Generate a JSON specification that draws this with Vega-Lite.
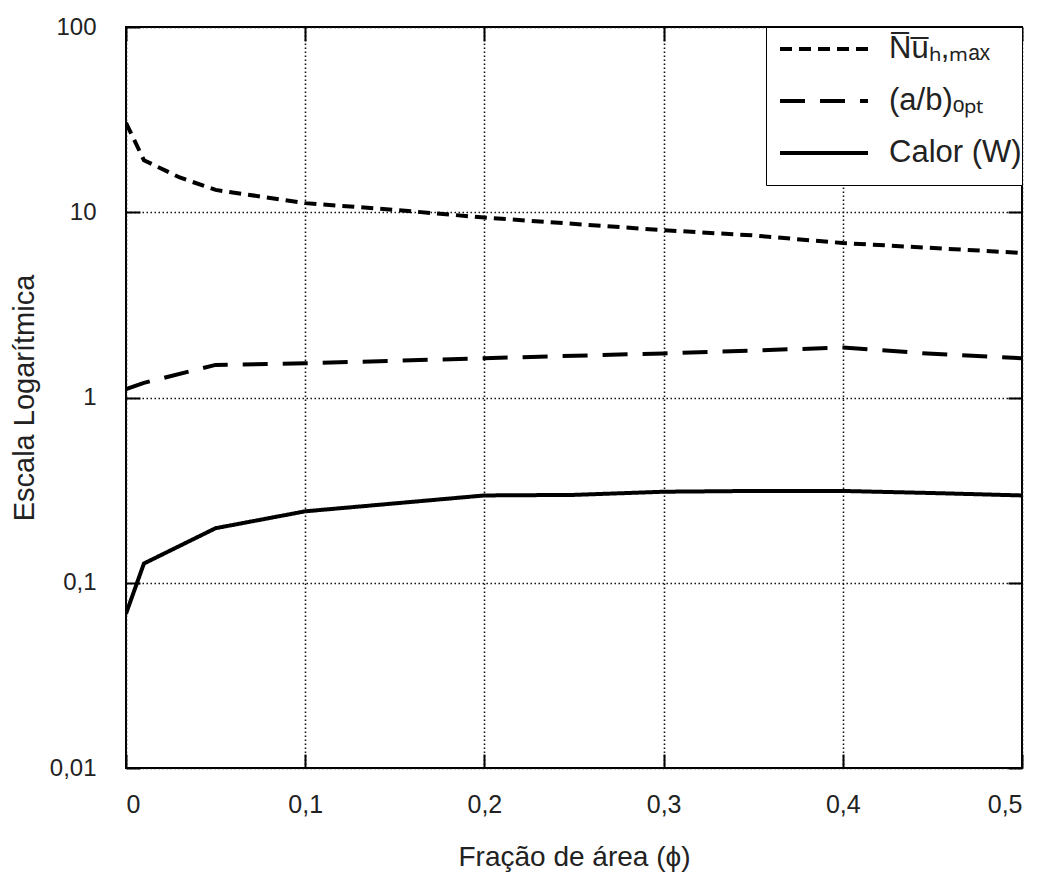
{
  "$schema": "https://vega.github.io/schema/vega-lite/v6.json",
  "width": 896,
  "height": 741,
  "autosize": {"type": "none"},
  "padding": {"left": 126, "top": 27, "right": 29, "bottom": 114},
  "background": "white",
  "config": {
    "view": {"stroke": "black", "strokeWidth": 2},
    "font": "Liberation Sans"
  },
  "data": {
    "values": [
      {"phi": 0, "v": 30.4, "s": "N̅u̅ₕ,ₘₐₓ"},
      {"phi": 0.01, "v": 19.1, "s": "N̅u̅ₕ,ₘₐₓ"},
      {"phi": 0.03, "v": 15.4, "s": "N̅u̅ₕ,ₘₐₓ"},
      {"phi": 0.05, "v": 13.2, "s": "N̅u̅ₕ,ₘₐₓ"},
      {"phi": 0.1, "v": 11.2, "s": "N̅u̅ₕ,ₘₐₓ"},
      {"phi": 0.15, "v": 10.3, "s": "N̅u̅ₕ,ₘₐₓ"},
      {"phi": 0.2, "v": 9.36, "s": "N̅u̅ₕ,ₘₐₓ"},
      {"phi": 0.3, "v": 8.0, "s": "N̅u̅ₕ,ₘₐₓ"},
      {"phi": 0.35, "v": 7.5, "s": "N̅u̅ₕ,ₘₐₓ"},
      {"phi": 0.4, "v": 6.82, "s": "N̅u̅ₕ,ₘₐₓ"},
      {"phi": 0.5, "v": 6.03, "s": "N̅u̅ₕ,ₘₐₓ"},
      {"phi": 0, "v": 1.11, "s": "(a/b)ₒₚₜ"},
      {"phi": 0.01, "v": 1.2, "s": "(a/b)ₒₚₜ"},
      {"phi": 0.05, "v": 1.5, "s": "(a/b)ₒₚₜ"},
      {"phi": 0.1, "v": 1.53, "s": "(a/b)ₒₚₜ"},
      {"phi": 0.2, "v": 1.63, "s": "(a/b)ₒₚₜ"},
      {"phi": 0.3, "v": 1.73, "s": "(a/b)ₒₚₜ"},
      {"phi": 0.4, "v": 1.86, "s": "(a/b)ₒₚₜ"},
      {"phi": 0.45, "v": 1.72, "s": "(a/b)ₒₚₜ"},
      {"phi": 0.5, "v": 1.63, "s": "(a/b)ₒₚₜ"},
      {"phi": 0, "v": 0.068, "s": "Calor (W)"},
      {"phi": 0.01, "v": 0.127, "s": "Calor (W)"},
      {"phi": 0.05, "v": 0.197, "s": "Calor (W)"},
      {"phi": 0.1, "v": 0.243, "s": "Calor (W)"},
      {"phi": 0.2, "v": 0.296, "s": "Calor (W)"},
      {"phi": 0.25, "v": 0.298, "s": "Calor (W)"},
      {"phi": 0.3, "v": 0.31, "s": "Calor (W)"},
      {"phi": 0.35, "v": 0.313, "s": "Calor (W)"},
      {"phi": 0.4, "v": 0.313, "s": "Calor (W)"},
      {"phi": 0.45, "v": 0.305, "s": "Calor (W)"},
      {"phi": 0.5, "v": 0.296, "s": "Calor (W)"}
    ]
  },
  "layer": [
    {
      "mark": {"type": "line", "color": "black", "strokeWidth": 4, "clip": true},
      "encoding": {
        "x": {
          "field": "phi", "type": "quantitative",
          "scale": {"domain": [0, 0.5], "nice": false, "zero": false},
          "axis": {
            "title": "Fração de área (ϕ)",
            "titleFontSize": 28, "titleFontWeight": "normal", "titleColor": "#222", "titlePadding": 26,
            "values": [0, 0.1, 0.2, 0.3, 0.4, 0.5],
            "labelExpr": "replace(format(datum.value, '.1~f'), '.', ',')",
            "labelFontSize": 25, "labelColor": "#222", "labelPadding": 38,
            "tickSize": -14, "tickColor": "black", "tickWidth": 2,
            "domain": false,
            "grid": true, "gridColor": "#111", "gridDash": [1.5, 2.5], "gridWidth": 1.6
          }
        },
        "y": {
          "field": "v", "type": "quantitative",
          "scale": {"type": "log", "domain": [0.01, 100], "nice": false},
          "axis": {
            "title": "Escala Logarítmica",
            "titleFontSize": 29, "titleFontWeight": "normal", "titleColor": "#222", "titlePadding": 10,
            "values": [0.01, 0.1, 1, 10, 100],
            "labelExpr": "replace(toString(datum.value), '.', ',')",
            "labelFontSize": 24, "labelColor": "#222", "labelPadding": 44,
            "tickSize": -14, "tickColor": "black", "tickWidth": 2,
            "domain": false,
            "grid": true, "gridColor": "#111", "gridDash": [1.5, 2.5], "gridWidth": 1.6
          }
        },
        "strokeDash": {
          "field": "s", "type": "nominal",
          "scale": {
            "domain": ["N̅u̅ₕ,ₘₐₓ", "(a/b)ₒₚₜ", "Calor (W)"],
            "range": [[12, 7], [25, 15], [1, 0]]
          },
          "legend": {
            "title": " ",
            "titleOrient": "bottom",
            "titleFontSize": 10,
            "titlePadding": 7,
            "orient": "top-right",
            "offset": 0,
            "padding": 0,
            "strokeColor": "black",
            "fillColor": "white",
            "symbolType": "M-0.4,0H4",
            "symbolSize": 1600,
            "symbolStrokeWidth": 4,
            "symbolStrokeColor": "black",
            "symbolFillColor": "transparent",
            "labelFontSize": 31,
            "labelColor": "#222",
            "labelOffset": 79,
            "labelExpr": "datum.label + '\u00a0\u00a0'",
            "rowPadding": 15,
            "labelLimit": 300
          }
        }
      }
    },
    {
      "mark": {"type": "line", "opacity": 0},
      "encoding": {
        "x": {
          "field": "phi", "type": "quantitative",
          "scale": {"domain": [0, 0.5], "nice": false, "zero": false},
          "axis": {"orient": "top", "title": null, "labels": false, "values": [0, 0.1, 0.2, 0.3, 0.4, 0.5], "tickSize": -14, "tickColor": "black", "tickWidth": 2, "domain": false, "grid": false}
        },
        "y": {
          "field": "v", "type": "quantitative",
          "scale": {"type": "log", "domain": [0.01, 100], "nice": false},
          "axis": {"orient": "right", "title": null, "labels": false, "values": [0.01, 0.1, 1, 10, 100], "tickSize": -14, "tickColor": "black", "tickWidth": 2, "domain": false, "grid": false}
        }
      }
    }
  ],
  "resolve": {"scale": {"x": "independent", "y": "independent"}}
}
